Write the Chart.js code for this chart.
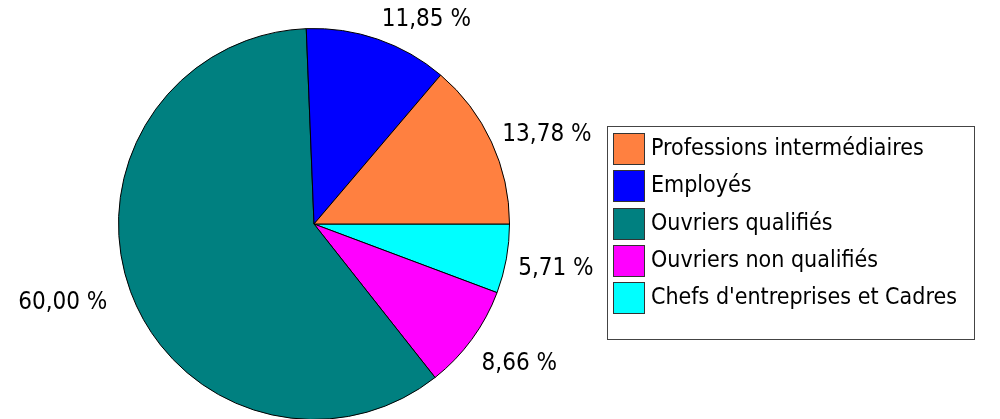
<!DOCTYPE html>
<html>
<head>
<meta charset="utf-8">
<script src="https://cdn.jsdelivr.net/npm/chart.js@4"></script>
<style>
  html, body { margin: 0; padding: 0; background: #fff; overflow: hidden; }
  body { width: 1000px; height: 419px; position: relative; font-family: "DejaVu Sans Condensed", "DejaVu Sans", sans-serif; }
  #wrap { position: absolute; left: 0; top: 0; width: 628px; height: 448px; }
  #legende {
    position: absolute; left: 607px; top: 126px; width: 366px; height: 212px;
    border: 1.5px solid #444; box-sizing: content-box;
  }
  .item { position: absolute; left: 5px; height: 32px; display: flex; align-items: center; font-size: 23px; color: #000; white-space: nowrap; }
  .item span.carre { width: 30px; height: 30px; border: 1px solid #333; margin-right: 6px; display: inline-block; flex: none; }
  .item span.nom { position: relative; top: -2px; }
</style>
</head>
<body>
<div id="wrap"><canvas id="graficaPie"></canvas></div>
<div id="legende"></div>
<script>
// Données du graphique
const categories = ['Professions intermédiaires', 'Employés', 'Ouvriers qualifiés', 'Ouvriers non qualifiés', "Chefs d'entreprises et Cadres"];
const valeurs = [13.78, 11.85, 60.00, 8.66, 5.71];
const couleurs = ['#ff8040', '#0000ff', '#008080', '#ff00ff', '#00ffff'];

// Légende à droite avec cadre
const legende = document.getElementById('legende');
categories.forEach((nom, i) => {
  const div = document.createElement('div');
  div.className = 'item';
  div.style.top = (6 + i * 37.3) + 'px';
  div.innerHTML = '<span class="carre" style="background:' + couleurs[i] + '"></span><span class="nom">' + nom + '</span>';
  legende.appendChild(div);
});

// Le camembert tourne dans le sens antihoraire : on inverse l'ordre pour Chart.js
const labelsPie = categories.slice().reverse();
const dataPie = valeurs.slice().reverse();
const couleursPie = couleurs.slice().reverse();

// Étiquettes de pourcentage autour du camembert
const etiquettes = {
  id: 'etiquettes',
  afterDatasetsDraw(chart) {
    const ctx = chart.ctx;
    const meta = chart.getDatasetMeta(0);
    ctx.save();
    ctx.font = '24px "DejaVu Sans Condensed", "DejaVu Sans", sans-serif';
    ctx.fillStyle = '#000';
    ctx.textBaseline = 'middle';
    ctx.textAlign = 'left';
    meta.data.forEach((arc, i) => {
      const a = (arc.startAngle + arc.endAngle) / 2;
      const r = arc.outerRadius + 12;
      const px = arc.x + Math.cos(a) * r;
      const py = arc.y + Math.sin(a) * r;
      const texte = dataPie[i].toFixed(2).replace('.', ',') + ' %';
      const w = ctx.measureText(texte).width;
      const h = 24;
      const x = Math.cos(a) >= 0 ? px : px - w - 12;
      // les étiquettes du bas à droite descendent un peu plus
      const bas = Math.sin(a) > 0 && Math.cos(a) > 0 ? Math.sin(a) * 12 : 0;
      const y = py + Math.sin(a) * h * 0.5 + 3 + bas;
      ctx.fillText(texte, x, y);
    });
    ctx.restore();
  }
};

const ctxPie = document.getElementById('graficaPie').getContext('2d');
const graficaPie = new Chart(ctxPie, {
  type: 'pie',
  data: {
    labels: labelsPie,
    datasets: [{
      data: dataPie,
      backgroundColor: couleursPie,
      borderColor: '#000',
      borderWidth: 1
    }]
  },
  options: {
    responsive: true,
    maintainAspectRatio: false,
    animation: false,
    rotation: 90,
    layout: { padding: { top: 28, bottom: 28, left: 0, right: 0 } },
    plugins: {
      legend: { display: false },
      tooltip: { enabled: false }
    }
  },
  plugins: [etiquettes]
});
</script>
</body>
</html>
